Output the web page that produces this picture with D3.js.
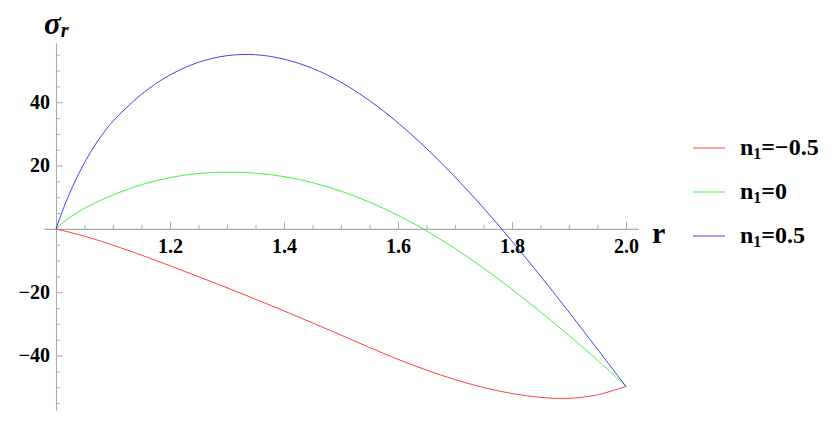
<!DOCTYPE html>
<html>
<head>
<meta charset="utf-8">
<script src="https://d3js.org/d3.v7.min.js"></script>
<style>
  html, body { margin: 0; padding: 0; background: #fff; }
  svg { display: block; }
</style>
</head>
<body>
<svg id="chart" width="837" height="428"></svg>
<script>
// ---- data ----
const rValues = [1.0, 1.01, 1.02, 1.03, 1.04, 1.05, 1.06, 1.07, 1.08, 1.09, 1.1,
  1.15, 1.2, 1.25, 1.3, 1.35, 1.4, 1.45, 1.5, 1.55, 1.6, 1.65, 1.7, 1.75, 1.8, 1.85, 1.9, 1.95, 2.0];
const sigmaNegHalf = [0, -0.44, -0.89, -1.35, -1.83, -2.33, -2.85, -3.39, -3.95, -4.54, -5.15,
  -8.3, -11.65, -15.1, -18.6, -22.2, -25.9, -29.7, -33.55, -37.45, -41.2, -44.6, -47.6, -50.1, -52.0, -53.2, -53.5, -52.4, -49.7];
const sigmaZero = [0, 1.66, 3.09, 4.34, 5.47, 6.49, 7.44, 8.32, 9.15, 9.94, 10.7,
  13.95, 16.2, 17.5, 17.9, 17.6, 16.5, 14.6, 11.9, 8.45, 4.25, -0.6, -6.2, -12.4, -19.1, -26.2, -33.7, -41.5, -49.7];
const sigmaHalf = [0, 5.01, 9.56, 13.70, 17.48, 20.91, 24.04, 26.89, 29.48, 31.84, 34.0,
  42.5, 48.6, 52.6, 54.7, 55.0, 53.6, 50.7, 46.3, 40.5, 33.5, 25.4, 16.4, 6.6, -3.9, -14.9, -26.3, -38.0, -49.8];
const seriesNames = ["n1=-0.5", "n1=0", "n1=0.5"];
const seriesColors = ["#ff0000", "#00ee00", "#0000ff"];
const xMajorTicks = [1.2, 1.4, 1.6, 1.8, 2.0];
const xMinorTicks = [1.05, 1.1, 1.15, 1.25, 1.3, 1.35, 1.45, 1.5, 1.55, 1.65, 1.7, 1.75, 1.85, 1.9, 1.95];
const yMajorTicks = [-40, -20, 20, 40];
const yMinorTicks = [-55, -50, -45, -35, -30, -25, -15, -10, -5, 5, 10, 15, 25, 30, 35, 45, 50, 55];

const seriesValues = [sigmaNegHalf, sigmaZero, sigmaHalf];

const serif = "'Liberation Serif', 'Times New Roman', serif";
const svg = d3.select("#chart");
svg.append("rect").attr("width", 837).attr("height", 428).attr("fill", "#fff");

const x = d3.scaleLinear().domain([0.979, 2.021]).range([44, 638]);
const y = d3.scaleLinear().domain([-57.2, 58.7]).range([410, 43]);

const axisColor = "#aaaaaa";

function styleAxis(g) {
  g.attr("font-family", serif).attr("font-size", 20).attr("font-weight", "bold");
  g.selectAll("text").attr("fill", "#000");
}

// x axis (ticks pointing up, labels below)
svg.append("g").attr("transform", `translate(0,${y(0)})`)
  .call(d3.axisBottom(x).tickValues(xMinorTicks).tickSizeInner(-4).tickSizeOuter(0).tickFormat(""));
svg.append("g").attr("transform", `translate(0,${y(0)})`)
  .call(d3.axisBottom(x).tickValues(xMajorTicks).tickSizeInner(-7).tickSizeOuter(0).tickPadding(10).tickFormat(d3.format(".1f")))
  .call(styleAxis);

// y axis (ticks pointing right, labels left)
svg.append("g").attr("transform", `translate(${x(1)},0)`)
  .call(d3.axisLeft(y).tickValues(yMinorTicks).tickSizeInner(-4).tickSizeOuter(0).tickFormat(""));
svg.append("g").attr("transform", `translate(${x(1)},0)`)
  .call(d3.axisLeft(y).tickValues(yMajorTicks).tickSizeInner(-7).tickSizeOuter(0).tickPadding(6)
    .tickFormat(d => d < 0 ? "\u2212" + Math.abs(d) : String(d)))
  .call(styleAxis);

svg.selectAll(".domain").attr("stroke", axisColor).attr("stroke-width", 1);
svg.selectAll(".tick line").attr("stroke", axisColor).attr("stroke-width", 1);

// curves
const line = d3.line()
  .x((d, i) => x(rValues[i]))
  .y(d => y(d))
  .curve(d3.curveCatmullRom.alpha(0.5));

seriesValues.forEach((vals, k) => {
  svg.append("path")
    .datum(vals)
    .attr("d", line)
    .attr("fill", "none")
    .attr("stroke", seriesColors[k])
    .attr("stroke-width", 1)
    .attr("stroke-opacity", 0.75);
});

// axis labels
const sig = svg.append("text")
  .attr("x", 44).attr("y", 34)
  .attr("font-family", serif).attr("font-size", 31).attr("font-style", "italic").attr("font-weight", "bold");
sig.append("tspan").text("\u03C3");
sig.append("tspan").attr("font-size", 20).attr("dy", 3).text("r");

svg.append("text")
  .attr("x", 652).attr("y", 243)
  .attr("font-family", serif).attr("font-size", 30).attr("font-weight", "bold")
  .text("r");

// legend
const legendY = [148, 192, 236];
const legendLabels = [["n", "1", "=\u22120.5"], ["n", "1", "=0"], ["n", "1", "=0.5"]];
legendLabels.forEach((parts, k) => {
  const g = svg.append("g").attr("transform", `translate(0,${legendY[k]})`);
  g.append("line").attr("x1", 693).attr("x2", 725).attr("y1", 0).attr("y2", 0)
    .attr("stroke", seriesColors[k]).attr("stroke-width", 1).attr("stroke-opacity", 0.75);
  const t = g.append("text").attr("x", 740).attr("y", 7)
    .attr("font-family", serif).attr("font-size", 24).attr("font-weight", "bold")
    .attr("aria-label", seriesNames[k]);
  t.append("tspan").text(parts[0]);
  t.append("tspan").attr("font-size", 16).attr("dy", 4).text(parts[1]);
  t.append("tspan").attr("dy", -4).text(parts[2]);
});
</script>
</body>
</html>
